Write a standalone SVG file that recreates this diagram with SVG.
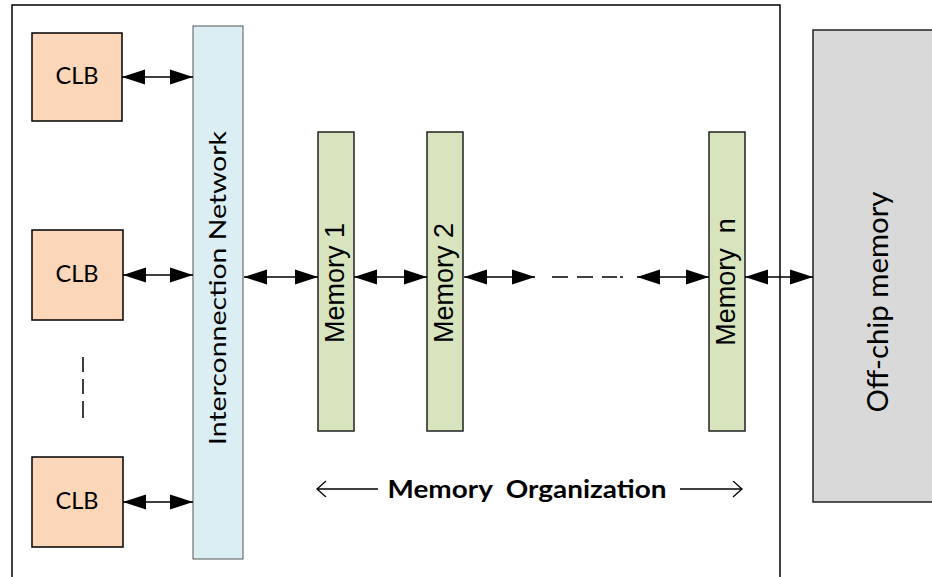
<svg xmlns="http://www.w3.org/2000/svg" width="932" height="577" viewBox="0 0 932 577">
<style>
.clb{fill:#FBD6B8;stroke:#000;stroke-width:1.5}
.mem{fill:#D7E4BD;stroke:#222;stroke-width:1.5}
.lbl{font-family:Lato,"Open Sans",sans-serif;fill:#000}
.cl{font-family:Lato,"Open Sans",sans-serif;font-size:23px;fill:#000}
.ml{font-family:"Liberation Sans",Arial,sans-serif;font-size:27px;fill:#000}
.conn{stroke:#000;stroke-width:1.5;fill:none}
</style>
<defs>
<marker id="ah" markerUnits="userSpaceOnUse" markerWidth="24" markerHeight="18" refX="23" refY="8" orient="auto-start-reverse">
<path d="M0,0.5 L23,8 L0,15.5 Z" fill="#000"/>
</marker>
<marker id="oh" markerUnits="userSpaceOnUse" markerWidth="12" markerHeight="18" refX="10" refY="8" orient="auto-start-reverse">
<path d="M1,0 L10,8 L1,16" fill="none" stroke="#000" stroke-width="1.3"/>
</marker>
</defs>
<rect x="0" y="0" width="932" height="577" fill="#fff"/>
<g id="chip"><rect x="12" y="5" width="768" height="600" fill="none" stroke="#000" stroke-width="1.5"/></g>
<g id="offchip"><rect x="813" y="30" width="140" height="472" fill="#D9D9D9" stroke="#222" stroke-width="1.5"/>
<text class="lbl" transform="translate(888,302) rotate(-90)" text-anchor="middle" font-size="28" textLength="221" lengthAdjust="spacingAndGlyphs">Off-chip memory</text></g>
<g id="clb1"><rect class="clb" x="32" y="33" width="90" height="88"/><text class="cl" x="77" y="84" text-anchor="middle" textLength="43" lengthAdjust="spacingAndGlyphs">CLB</text></g>
<g id="clb2"><rect class="clb" x="32" y="230" width="91" height="90"/><text class="cl" x="77" y="282" text-anchor="middle" textLength="43" lengthAdjust="spacingAndGlyphs">CLB</text></g>
<g id="clb3"><rect class="clb" x="32" y="457" width="91" height="90"/><text class="cl" x="77" y="509" text-anchor="middle" textLength="43" lengthAdjust="spacingAndGlyphs">CLB</text></g>
<g id="interconnect"><rect x="193" y="26" width="50" height="533" fill="#DBEEF4" stroke="#555" stroke-width="1"/>
<text class="lbl" transform="translate(226,288) rotate(-90)" text-anchor="middle" font-size="24" textLength="314" lengthAdjust="spacingAndGlyphs">Interconnection Network</text></g>
<g id="mem1"><rect class="mem" x="318" y="132" width="36" height="299"/><text class="ml" transform="translate(344,283) rotate(-90)" text-anchor="middle">Memory 1</text></g>
<g id="mem2"><rect class="mem" x="427" y="132" width="36" height="299"/><text class="ml" transform="translate(453,283) rotate(-90)" text-anchor="middle">Memory 2</text></g>
<g id="memn"><rect class="mem" x="709" y="132" width="36" height="299"/><text class="ml" transform="translate(735,282) rotate(-90)" text-anchor="middle" xml:space="preserve">Memory  n</text></g>
<g id="connectors">
<line class="conn" x1="122" y1="77" x2="193" y2="77" marker-start="url(#ah)" marker-end="url(#ah)"/>
<line class="conn" x1="123" y1="275" x2="193" y2="275" marker-start="url(#ah)" marker-end="url(#ah)"/>
<line class="conn" x1="123" y1="502" x2="193" y2="502" marker-start="url(#ah)" marker-end="url(#ah)"/>
<line class="conn" x1="244" y1="277" x2="318" y2="277" marker-start="url(#ah)" marker-end="url(#ah)"/>
<line class="conn" x1="354" y1="277" x2="427" y2="277" marker-start="url(#ah)" marker-end="url(#ah)"/>
<line class="conn" x1="464" y1="277" x2="535" y2="277" marker-start="url(#ah)" marker-end="url(#ah)"/>
<path class="conn" d="M552,277 H568 M577,277 H593 M602,277 H617 M620,277 H623"/>
<line class="conn" x1="637" y1="277" x2="709" y2="277" marker-start="url(#ah)" marker-end="url(#ah)"/>
<line class="conn" x1="745" y1="277" x2="813" y2="277" marker-start="url(#ah)" marker-end="url(#ah)"/>
<path class="conn" d="M83,357 V372 M83,379 V394 M83,401 V418"/>
<line x1="317" y1="489" x2="378" y2="489" stroke="#000" stroke-width="1.3" marker-start="url(#oh)"/>
<line x1="680" y1="489" x2="742" y2="489" stroke="#000" stroke-width="1.3" marker-end="url(#oh)"/>
</g>
<text class="lbl" x="527" y="498" text-anchor="middle" font-size="24" font-weight="bold" textLength="279" lengthAdjust="spacingAndGlyphs" xml:space="preserve">Memory  Organization</text>
</svg>
